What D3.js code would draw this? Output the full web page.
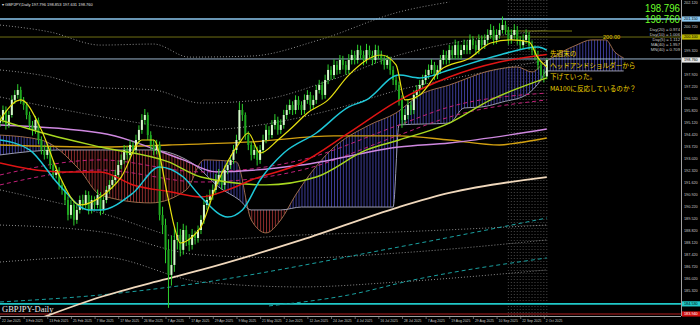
<!DOCTYPE html>
<html>
<head>
<meta charset="utf-8">
<script src="https://cdn.jsdelivr.net/npm/d3@7"></script>
<style>
  body { margin: 0; background: #000; }
  svg { display: block; }
</style>
</head>
<body>
<div id="chart"></div>
<script>
// ---- data ----
var dateTicks = ["22 Jan 2025","3 Feb 2025","13 Feb 2025","25 Feb 2025","7 Mar 2025","17 Mar 2025","26 Mar 2025","7 Apr 2025","17 Apr 2025","29 Apr 2025","9 May 2025","21 May 2025","2 Jun 2025","12 Jun 2025","24 Jun 2025","4 Jul 2025","16 Jul 2025","28 Jul 2025","7 Aug 2025","19 Aug 2025","29 Aug 2025","10 Sep 2025","22 Sep 2025","2 Oct 2025"];
var priceTicks = [185.320,186.020,186.720,187.420,188.120,188.820,189.520,190.220,190.920,191.620,192.320,193.020,193.720,194.420,195.120,195.820,196.520,197.220,197.920,198.620,199.320,200.020,200.720,201.420,202.120];

var open = [195.10,195.26,195.84,194.97,195.55,196.43,196.72,197.01,196.43,196.13,195.55,194.97,194.68,195.26,194.09,193.51,193.22,193.51,192.63,192.05,192.34,191.47,191.18,190.59,189.72,190.30,189.43,190.01,190.59,190.30,190.88,190.01,190.59,190.30,190.88,190.01,190.59,191.18,191.47,191.76,192.05,192.63,192.93,193.51,193.22,193.80,193.51,194.09,194.68,195.26,195.55,194.38,193.80,193.51,193.80,189.72,189.13,187.68,186.22,186.80,188.26,188.55,187.68,188.84,188.26,187.97,188.55,188.37,188.84,189.43,190.30,190.59,190.88,191.18,191.76,192.05,191.47,192.34,192.63,192.93,193.51,194.09,195.84,195.55,194.38,193.80,193.22,193.51,192.93,193.51,194.09,194.68,194.38,194.97,195.26,194.68,194.97,195.55,195.84,196.13,195.84,196.43,196.13,195.84,196.43,196.72,196.13,196.43,197.01,197.30,196.72,197.59,198.18,197.88,198.47,198.18,198.76,198.47,198.18,198.76,199.05,198.76,199.34,199.05,198.76,199.34,199.05,198.76,199.34,199.05,198.76,198.47,198.76,198.18,197.59,197.30,196.43,195.26,195.55,196.13,195.84,196.72,197.01,197.30,197.59,197.88,198.18,198.47,197.88,198.18,198.76,199.05,198.76,199.34,199.05,199.63,199.05,199.34,199.63,199.34,199.93,199.63,199.34,199.93,199.63,199.93,200.22,200.51,199.93,200.22,200.51,200.80,200.51,199.93,200.22,200.51,199.93,199.63,199.93,200.22,199.63,199.34,199.05,198.47,197.88,197.80];
var high = [195.55,196.10,196.05,195.80,196.70,197.00,197.35,197.20,196.60,196.30,195.75,195.20,195.50,195.40,194.30,193.80,193.85,193.70,192.90,192.60,192.50,191.70,191.40,190.80,190.60,190.50,190.30,190.85,190.90,191.15,191.10,190.85,190.80,191.20,191.05,190.80,191.40,191.75,192.05,192.35,192.90,193.25,193.80,193.75,194.10,194.00,194.40,194.95,195.60,195.90,195.70,194.60,194.10,194.10,194.00,190.20,189.50,188.30,188.50,189.00,189.30,188.90,189.20,189.10,188.60,188.90,188.80,189.10,189.70,190.60,190.90,191.20,191.50,192.10,192.40,192.30,192.60,192.90,193.20,193.80,194.40,196.30,196.20,195.70,194.60,194.00,193.80,193.70,193.80,194.40,195.00,194.90,195.25,195.60,195.45,195.30,195.85,196.15,196.45,196.35,196.70,196.65,196.35,196.75,197.00,196.90,196.70,197.30,197.60,197.50,197.90,198.50,198.40,198.80,198.70,199.05,199.00,198.70,199.10,199.35,199.30,199.65,199.60,199.30,199.70,199.60,199.30,199.65,199.60,199.30,199.00,199.05,198.95,198.40,197.85,197.50,196.70,195.90,196.45,196.35,197.00,197.30,197.60,197.90,198.20,198.50,198.80,198.65,198.45,199.05,199.35,199.30,199.65,199.60,199.95,199.85,199.65,199.95,199.90,200.25,200.15,199.90,200.25,200.20,200.25,200.55,200.85,200.75,200.55,200.90,201.30,201.05,200.70,200.55,200.85,200.75,200.15,200.25,200.55,200.40,199.90,199.60,199.30,198.70,198.20,198.85];
var low = [194.85,195.05,194.70,194.80,195.40,196.20,196.50,196.20,195.85,195.30,194.70,194.35,194.45,193.85,193.25,192.95,193.00,192.40,191.80,191.85,191.20,190.90,190.30,189.40,189.50,189.10,189.20,189.80,190.00,190.10,189.75,189.80,190.00,190.10,189.70,189.80,190.40,190.95,191.25,191.55,191.85,192.40,192.70,192.95,193.00,193.25,193.30,193.85,194.45,195.00,194.10,193.50,193.20,193.25,189.40,188.60,186.90,184.30,185.60,186.40,187.70,187.30,187.40,187.90,187.60,187.70,188.00,188.10,188.60,189.20,190.00,190.30,190.60,190.90,191.50,191.20,191.20,192.10,192.40,192.70,193.30,193.90,195.20,194.10,193.50,192.90,193.00,192.60,192.70,193.30,193.90,194.10,194.20,194.70,194.40,194.45,194.75,195.30,195.60,195.55,195.60,195.85,195.55,195.60,196.20,195.85,195.90,196.20,196.80,196.45,196.50,197.35,197.60,197.65,197.90,197.95,198.20,197.90,197.95,198.50,198.50,198.55,198.80,198.45,198.55,198.80,198.45,198.55,198.80,198.50,198.20,198.25,197.90,197.30,197.00,196.10,194.80,195.00,195.30,195.55,195.60,196.50,196.80,197.05,197.35,197.65,197.95,197.60,197.65,197.95,198.50,198.50,198.55,198.80,198.80,198.80,198.80,199.10,199.10,199.10,199.40,199.05,199.10,199.40,199.40,199.70,200.00,199.65,199.70,200.00,200.30,200.25,199.65,199.70,200.00,199.65,199.35,199.40,199.70,199.35,199.05,198.75,198.20,197.60,197.45,197.63];
var close = [195.26,195.84,194.97,195.55,196.43,196.72,197.01,196.43,196.13,195.55,194.97,194.68,195.26,194.09,193.51,193.22,193.51,192.63,192.05,192.34,191.47,191.18,190.59,189.72,190.30,189.43,190.01,190.59,190.30,190.88,190.01,190.59,190.30,190.88,190.01,190.59,191.18,191.47,191.76,192.05,192.63,192.93,193.51,193.22,193.80,193.51,194.09,194.68,195.26,195.55,194.38,193.80,193.51,193.80,189.72,189.13,187.68,186.22,186.80,188.26,188.55,187.68,188.84,188.26,187.97,188.55,188.37,188.84,189.43,190.30,190.59,190.88,191.18,191.76,192.05,191.47,192.34,192.63,192.93,193.51,194.09,195.84,195.55,194.38,193.80,193.22,193.51,192.93,193.51,194.09,194.68,194.38,194.97,195.26,194.68,194.97,195.55,195.84,196.13,195.84,196.43,196.13,195.84,196.43,196.72,196.13,196.43,197.01,197.30,196.72,197.59,198.18,197.88,198.47,198.18,198.76,198.47,198.18,198.76,199.05,198.76,199.34,199.05,198.76,199.34,199.05,198.76,199.34,199.05,198.76,198.47,198.76,198.18,197.59,197.30,196.43,195.26,195.55,196.13,195.84,196.72,197.01,197.30,197.59,197.88,198.18,198.47,197.88,198.18,198.76,199.05,198.76,199.34,199.05,199.63,199.05,199.34,199.63,199.34,199.93,199.63,199.34,199.93,199.63,199.93,200.22,200.51,199.93,200.22,200.51,200.80,200.51,199.93,200.22,200.51,199.93,199.63,199.93,200.22,199.63,199.34,199.05,198.47,197.88,197.80,198.76];

// moving averages, [bar, price] points
var maFast = [[0,195.26],[7,196.43],[14,194.68],[20,192.05],[27,190.30],[34,190.77],[41,191.93],[48,194.09],[52,194.09],[57,190.59],[59,189.02],[61,188.08],[65,188.43],[68,189.02],[73,191.35],[81,193.92],[84,194.50],[88,193.33],[94,194.09],[99,194.85],[104,195.67],[111,196.43],[118,197.88],[129,199.05],[134,198.47],[137,196.43],[142,196.72],[149,198.18],[159,198.88],[166,199.75],[173,199.93],[179,199.81],[182,198.88],[185,198.35]];
var ma20 = [[0,194.09],[10,193.51],[20,191.47],[30,190.01],[34,190.01],[45,191.00],[54,192.52],[62,191.93],[68,190.77],[77,189.60],[82,190.01],[88,191.76],[96,193.33],[107,194.50],[118,196.02],[124,196.43],[135,197.88],[142,197.71],[152,198.18],[169,199.05],[182,199.52],[185,199.34]];
var ma50 = [[0,192.75],[20,192.23],[34,192.23],[45,191.47],[58,191.06],[68,190.77],[77,191.18],[85,191.76],[102,192.75],[118,194.50],[134,196.31],[152,197.77],[169,198.64],[185,199.08]];
var ma100 = [[0,195.26],[17,194.38],[34,193.68],[57,192.81],[68,191.93],[90,191.47],[107,191.93],[124,193.51],[135,194.09],[152,195.08],[166,196.43],[185,197.72]];
var maViolet = [[0,194.97],[34,194.50],[62,192.93],[73,192.23],[102,192.63],[135,193.68],[152,193.92],[185,194.73]];
var maGold = [[0,193.80],[34,193.68],[57,193.80],[85,193.98],[113,194.33],[135,194.33],[152,194.09],[169,193.80],[175,193.92],[185,194.21]];
var maMagentaA = [[0,192.05],[34,192.93],[68,192.23],[102,192.93],[135,194.97],[152,196.02],[185,196.83]];
var maMagentaB = [[0,191.47],[34,192.34],[68,191.64],[102,192.34],[135,194.38],[152,195.43],[185,196.43]];
var ma200 = [[14,183.71],[34,184.93],[55,185.93],[68,186.51],[102,188.26],[135,190.18],[152,191.00],[185,191.93]];
var tealA = [[0,184.64],[34,185.05],[58,185.52],[135,187.85],[185,189.54]];
var tealB = [[91,184.41],[118,185.05],[140,185.93],[185,187.21]];

// ichimoku spans (shifted 26 bars ahead)
var spanA = [[0,194.38],[14,194.09],[27,192.34],[34,190.88],[51,190.42],[63,191.18],[69,192.93],[80,192.81],[85,189.43],[90,188.67],[95,189.43],[100,190.88],[112,193.51],[125,194.97],[134,195.67],[142,196.72],[152,197.30],[167,198.18],[175,198.35],[180,198.06],[184,198.58],[195,199.63],[200,199.93],[205,199.93],[208,199.23],[211,198.88]];
var spanB = [[0,193.22],[20,193.51],[34,193.51],[51,193.51],[66,192.63],[74,191.35],[81,190.59],[85,190.01],[95,190.01],[102,190.18],[133,190.18],[135,194.97],[152,195.08],[157,195.96],[163,196.02],[170,196.31],[178,196.72],[183,197.59],[185,198.12],[211,198.12]];

// dotted envelope lines
var env1 = [[0,200.80],[17,200.39],[34,199.63],[52,199.69],[64,198.93],[85,198.99],[108,199.93],[135,201.56],[152,202.14]];
var env2 = [[0,198.18],[17,197.77],[30,197.18],[52,197.01],[68,196.25],[88,196.43],[112,197.59],[135,199.05],[159,199.93],[185,200.51]];
var env3 = [[0,196.60],[22,195.84],[41,195.26],[68,194.68],[88,194.97],[112,195.84],[135,197.01],[159,197.88],[185,198.76]];
var env4 = [[0,191.18],[34,189.83],[68,188.26],[102,188.55],[135,188.73],[185,189.13]];
var env5 = [[0,189.13],[34,188.73],[68,187.38],[102,187.21],[135,187.50],[185,188.26]];
var env6 = [[0,186.97],[34,187.27],[68,185.81],[102,185.52],[135,185.81],[185,186.51]];

// horizontal levels
var levels = [201.15, 200.10, 198.82, 184.53, 183.94];
var levelBoxes = [201.15, 200.10, 198.76, 184.53, 183.94];
var levelBoxText = ["201.150","200.100","198.760","184.530","183.940"];

var infoLines = ["Day(20) = 0.974","Day(10) = 1.006","Day(5) = 1.112","MA(40) = 1.957","MN(40) = 0.709"];
var noteLines = ["先週末の","ヘッドアンドショルダーから","下げていった。","MA100に反応しているのか？"];

// ---- chart ----
var width = 700, height = 325;
var plotRight = 681, plotBottom = 316;

var svg = d3.select("#chart").append("svg")
  .attr("width", width).attr("height", height)
  .style("background", "#000");

var x = d3.scaleLinear().domain([0, 230.4]).range([0, plotRight]);
var y = d3.scaleLinear().domain([183.88, 202.26]).range([315, 0]);

var defs = svg.append("defs");
defs.append("clipPath").attr("id", "plotclip").append("rect")
  .attr("x", 0).attr("y", 0).attr("width", plotRight).attr("height", plotBottom);

// vertical hatch patterns for the cloud
function hatch(id, color) {
  var p = defs.append("pattern").attr("id", id)
    .attr("patternUnits", "userSpaceOnUse")
    .attr("width", x(1) - x(0)).attr("height", 4);
  p.append("rect").attr("x", 0).attr("y", 0).attr("width", 1).attr("height", 4).attr("fill", color);
}
hatch("hatchBlue", "#3c3c96");
hatch("hatchRed", "#8c2c2c");

var g = svg.append("g").attr("clip-path", "url(#plotclip)");

var line = d3.line()
  .x(function(d) { return x(d[0]); })
  .y(function(d) { return y(d[1]); })
  .curve(d3.curveMonotoneX);

// dotted envelopes
[env1, env2, env3, env4, env5, env6].forEach(function(e) {
  g.append("path").attr("d", line(e))
    .attr("fill", "none").attr("stroke", "#8c8c8c").attr("stroke-width", 1)
    .attr("stroke-dasharray", "1,2");
});

// vertical dotted lines over the last bars
var lastBars = d3.range(172, 186);
g.selectAll(".vgrid").data(lastBars).enter().append("line")
  .attr("x1", function(d) { return x(d); }).attr("x2", function(d) { return x(d); })
  .attr("y1", 0).attr("y2", plotBottom)
  .attr("stroke", "#5a5a5a").attr("stroke-width", 0.8).attr("stroke-dasharray", "1,2");

// ichimoku cloud
var belowA = d3.area().x(function(d) { return x(d[0]); }).y0(function(d) { return y(d[1]); }).y1(plotBottom).curve(d3.curveMonotoneX);
var aboveA = d3.area().x(function(d) { return x(d[0]); }).y0(0).y1(function(d) { return y(d[1]); }).curve(d3.curveMonotoneX);
defs.append("clipPath").attr("id", "clipBelowA").append("path").attr("d", belowA(spanA));
defs.append("clipPath").attr("id", "clipBelowB").append("path").attr("d", belowA(spanB));
g.append("g").attr("clip-path", "url(#clipBelowA)")
  .append("path").attr("d", aboveA(spanB)).attr("fill", "url(#hatchBlue)");
g.append("g").attr("clip-path", "url(#clipBelowB)")
  .append("path").attr("d", aboveA(spanA)).attr("fill", "url(#hatchRed)");
g.append("path").attr("d", line(spanA)).attr("fill", "none").attr("stroke", "#9a6a4a").attr("stroke-width", 1);
g.append("path").attr("d", line(spanB)).attr("fill", "none").attr("stroke", "#9a9aae").attr("stroke-width", 1);

// horizontal levels
var levelColors = ["#8cc8f0", "#6e6e14", "#9ab4cc", "#20c8c8", "#7a1414"];
var levelWidths = [1.6, 1, 1, 1.6, 1.6];
g.selectAll(".level").data(levels).enter().append("line")
  .attr("x1", 0).attr("x2", plotRight)
  .attr("y1", function(d) { return y(d); }).attr("y2", function(d) { return y(d); })
  .attr("stroke", function(d, i) { return levelColors[i]; })
  .attr("stroke-width", function(d, i) { return levelWidths[i]; });

// short olive line near the top
g.append("line").attr("x1", x(171)).attr("x2", 572)
  .attr("y1", y(200.45)).attr("y2", y(200.45))
  .attr("stroke", "#7a7a10").attr("stroke-width", 1);

// long MAs and trend lines
function drawLine(data, color, w, dash) {
  var p = g.append("path").attr("d", line(data))
    .attr("fill", "none").attr("stroke", color).attr("stroke-width", w);
  if (dash) p.attr("stroke-dasharray", dash);
}
drawLine(tealA, "#1aa0a0", 1, "4,3");
drawLine(tealB, "#1aa0a0", 1, "4,3");
drawLine(ma200, "#f0d8bc", 1.8);
drawLine(maMagentaA, "#c02078", 1, "4,3");
drawLine(maMagentaB, "#c02078", 1, "4,3");
drawLine(maGold, "#d2a010", 1.4);
drawLine(maViolet, "#cf88e0", 1.4);

// candles
var bars = d3.range(close.length);
var bw = 2;
g.selectAll(".wick").data(bars).enter().append("line")
  .attr("x1", function(i) { return x(i); }).attr("x2", function(i) { return x(i); })
  .attr("y1", function(i) { return y(high[i]); }).attr("y2", function(i) { return y(low[i]); })
  .attr("stroke", "#2ed02e").attr("stroke-width", 1);
g.selectAll(".body").data(bars).enter().append("rect")
  .attr("x", function(i) { return x(i) - bw / 2; })
  .attr("y", function(i) { return y(Math.max(open[i], close[i])); })
  .attr("width", bw)
  .attr("height", function(i) { return Math.max(1, Math.abs(y(open[i]) - y(close[i]))); })
  .attr("fill", function(i) { return close[i] >= open[i] ? "#d6f8cc" : "#1fa81f"; });

drawLine(ma100, "#a8d820", 1.4);
drawLine(ma50, "#e01414", 1.5);
drawLine(ma20, "#1ec8d8", 1.5);
drawLine(maFast, "#e6e010", 1.2);

// frame
svg.append("line").attr("x1", plotRight + 0.5).attr("x2", plotRight + 0.5).attr("y1", 0).attr("y2", plotBottom)
  .attr("stroke", "#a0a0a0").attr("stroke-width", 1);
svg.append("line").attr("x1", 0).attr("x2", plotRight).attr("y1", plotBottom + 0.5).attr("y2", plotBottom + 0.5)
  .attr("stroke", "#a0a0a0").attr("stroke-width", 1);

// price axis (ticks hidden where a level box sits)
var freeTicks = priceTicks.filter(function(t) {
  return levelBoxes.every(function(b) { return Math.abs(y(t) - y(b)) > 5.5; });
});
svg.selectAll(".ptick").data(freeTicks).enter().append("text")
  .attr("x", plotRight + 3).attr("y", function(d) { return y(d) + 1.3; })
  .attr("font-family", "Arial, Liberation Sans, sans-serif").attr("font-size", 3.8)
  .attr("fill", "#c8c8c8").text(function(d) { return d.toFixed(3); });

var boxColors = ["#8cc8f0", "#b8b400", "#e8e8e8", "#20c8c8", "#d01010"];
levelBoxes.forEach(function(v, i) {
  svg.append("rect").attr("x", plotRight + 1).attr("y", y(v) - 2.6).attr("width", 18).attr("height", 5.2)
    .attr("fill", boxColors[i]);
  svg.append("text").attr("x", plotRight + 3).attr("y", y(v) + 1.3)
    .attr("font-family", "Arial, Liberation Sans, sans-serif").attr("font-size", 3.8)
    .attr("fill", i == 4 ? "#fff" : "#000").text(levelBoxText[i]);
});

// date axis
svg.selectAll(".dtick").data(dateTicks).enter().append("text")
  .attr("x", function(d, i) { return x(i * 8) + 2; }).attr("y", 322)
  .attr("font-family", "Arial, Liberation Sans, sans-serif").attr("font-size", 3.4)
  .attr("fill", "#c8c8c8").text(function(d) { return d; });
svg.selectAll(".dmark").data(dateTicks).enter().append("line")
  .attr("x1", function(d, i) { return x(i * 8) + 0.5; }).attr("x2", function(d, i) { return x(i * 8) + 0.5; })
  .attr("y1", plotBottom).attr("y2", plotBottom + 3).attr("stroke", "#a0a0a0").attr("stroke-width", 0.6);

// texts
svg.append("text").attr("x", 2).attr("y", 5.5)
  .attr("font-family", "Arial, Liberation Sans, sans-serif").attr("font-size", 4)
  .attr("fill", "#e0e0e0").text("▾ GBPJPY,Daily  197.796 198.853 197.631 198.760");

svg.append("text").attr("x", 2).attr("y", 312)
  .attr("font-family", "Liberation Serif, Times New Roman, serif").attr("font-size", 8.5)
  .attr("fill", "#e8e8e8").text("GBPJPY-Daily");

["198.796", "198.760"].forEach(function(t, i) {
  svg.append("text").attr("x", 680).attr("y", 12 + i * 10.5).attr("text-anchor", "end")
    .attr("font-family", "Arial, Liberation Sans, sans-serif").attr("font-size", 10)
    .attr("textLength", 35).attr("lengthAdjust", "spacingAndGlyphs")
    .attr("fill", "#6cff2a").text(t);
});

svg.selectAll(".info").data(infoLines).enter().append("text")
  .attr("x", 680).attr("y", function(d, i) { return 30.8 + i * 5; }).attr("text-anchor", "end")
  .attr("font-family", "Arial, Liberation Sans, sans-serif").attr("font-size", 4.2)
  .attr("fill", "#c8c8c8").text(function(d) { return d; });

svg.append("text").attr("x", 603).attr("y", 38.5)
  .attr("font-family", "Arial, Liberation Sans, sans-serif").attr("font-size", 5.6)
  .attr("fill", "#e8c800").text("200.00");

svg.selectAll(".note").data(noteLines).enter().append("text")
  .attr("x", 550).attr("y", function(d, i) { return 56 + i * 11.6; })
  .attr("font-family", "Noto Sans CJK JP, sans-serif").attr("font-size", 6.6)
  .attr("fill", "#f0d400").text(function(d) { return d; });
</script>
</body>
</html>
